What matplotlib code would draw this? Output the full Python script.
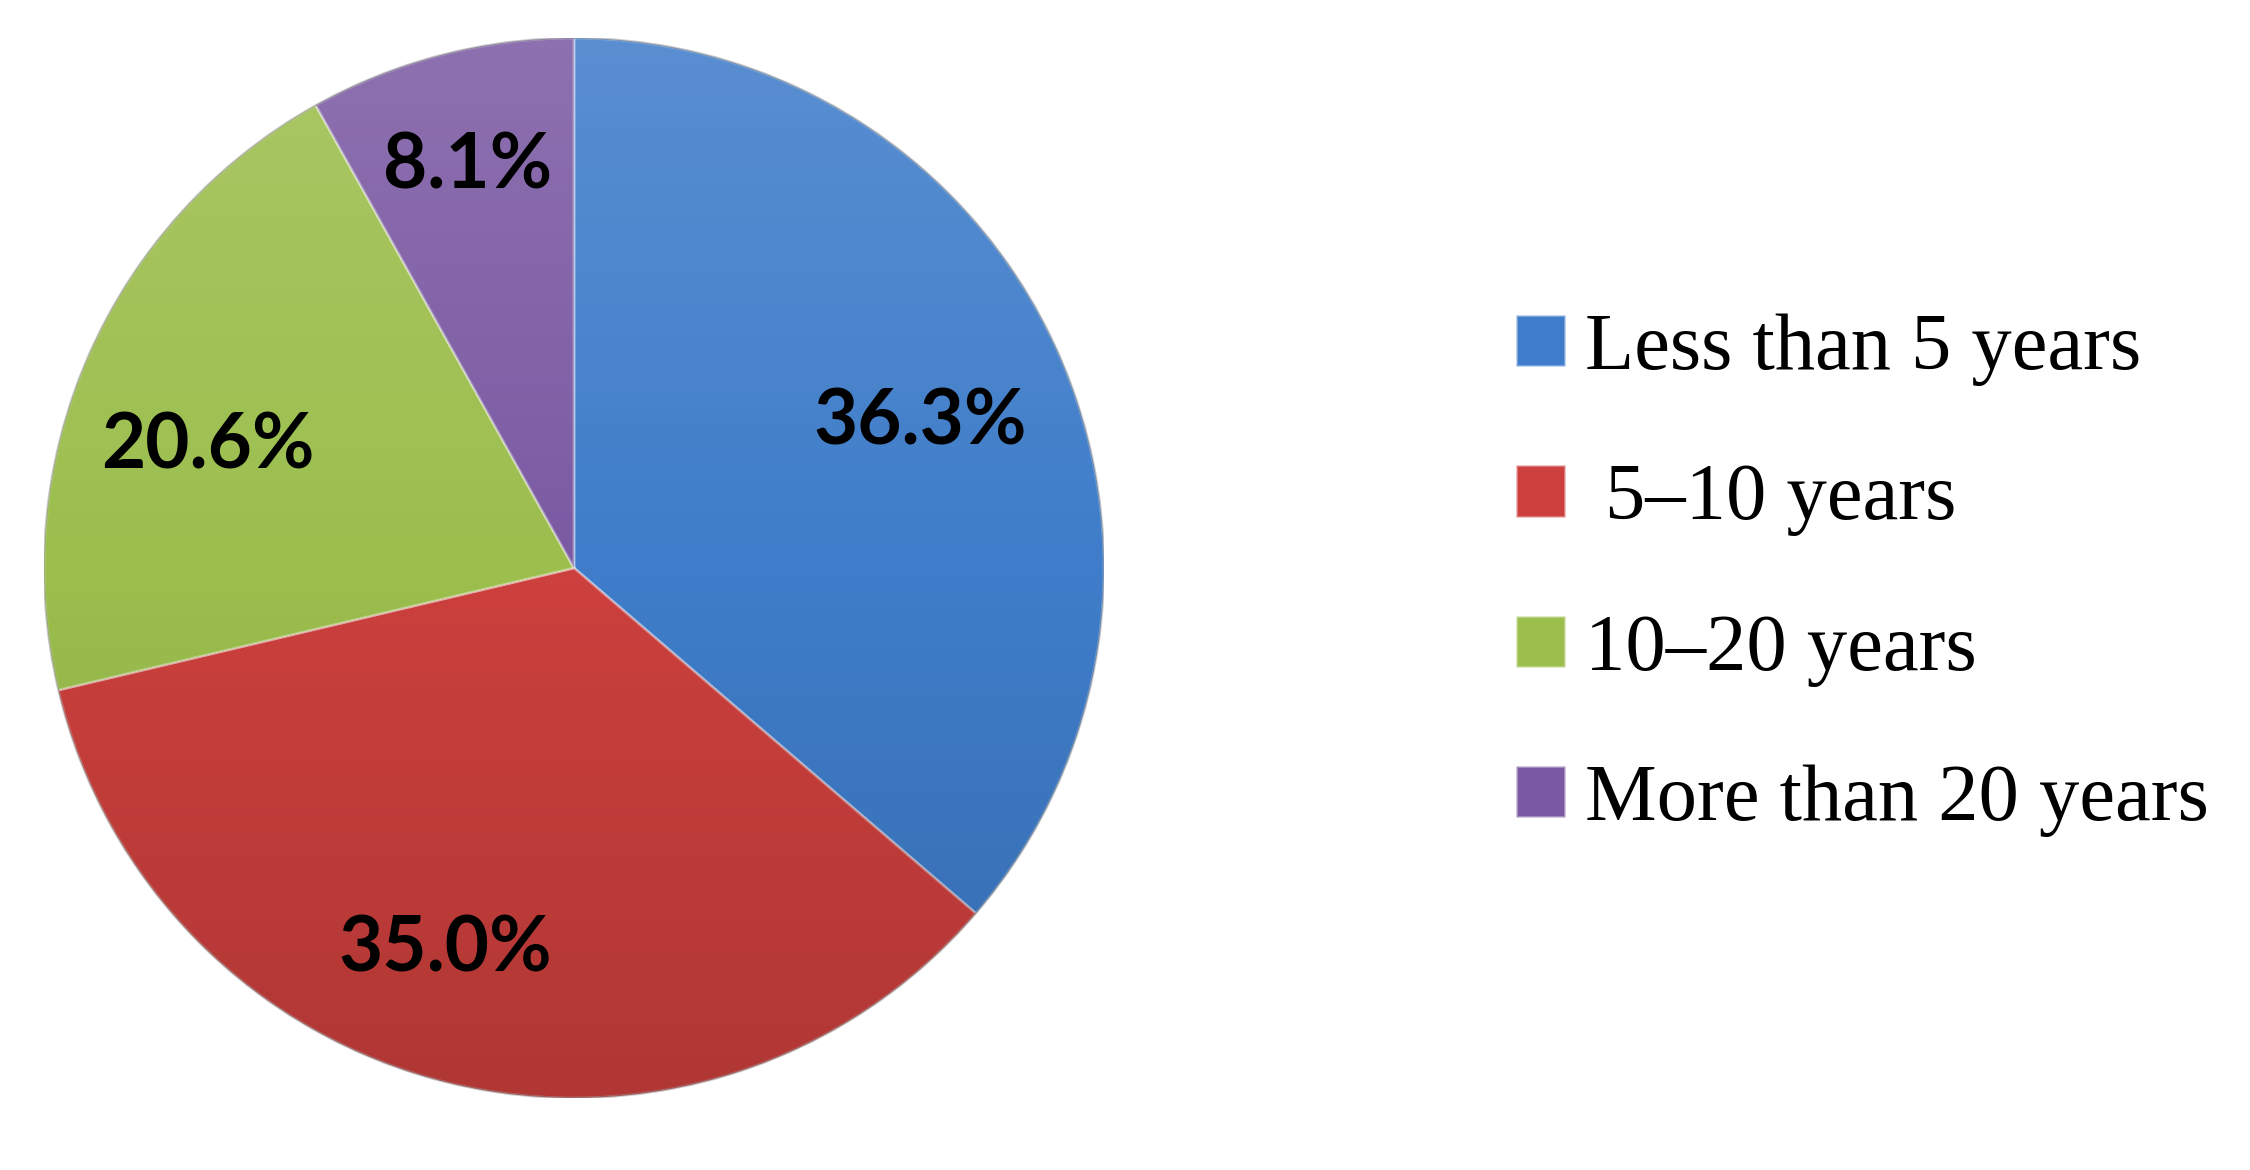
import numpy as np
import matplotlib
matplotlib.use('Agg')
import matplotlib.pyplot as plt
from matplotlib.patches import Circle

# data
labels = ['Less than 5 years', ' 5\u201310 years', '10\u201320 years', 'More than 20 years']
shares = [36.3, 35.0, 20.6, 8.1]
colors = ['#3F7DCA', '#CC403D', '#9CBE4D', '#7B5AA3']

# where the percent labels sit (radius, small angle nudge in degrees)
label_r = [0.713, 0.748, 0.731, 0.796]
label_nudge = [-1.0, -5.3, 4.5, 0.0]

fig = plt.figure(figsize=(22.5, 11.7), dpi=100)
# pie axes: centre at about (574, 568) px, radius 530 px
ax = fig.add_axes([(574 - 530) / 2250, 1 - (568 + 530) / 1170, 1060 / 2250, 1060 / 1170])

wedges, texts, autotexts = ax.pie(
    shares, colors=colors, startangle=90, counterclock=False,
    autopct='%1.1f%%', pctdistance=0.75, radius=1.0,
    wedgeprops=dict(edgecolor=(1, 1, 1, 0.35), linewidth=2.0),
    textprops=dict(fontsize=55, fontweight='bold', family='Lato', color='black'))

# light at the top, darker at the bottom, like the reference bevel
grad = np.linspace(1, 0, 256)[:, None] * np.ones((1, 2))
overlay = np.zeros((256, 2, 4))
overlay[..., :3] = np.where(grad[..., None] > 0.5, 1.0, 0.0)
overlay[..., 3] = np.abs(grad - 0.5) * 0.28
im = ax.imshow(overlay, extent=[-1, 1, -1, 1], aspect='auto', zorder=3, interpolation='bilinear')
im.set_clip_path(Circle((0, 0), 1.0, transform=ax.transData))
ax.add_patch(Circle((0, 0), 1.0, fill=False, edgecolor=(0.2, 0.2, 0.2, 0.25), linewidth=1.5, zorder=4))

for w, t, r, nd in zip(wedges, autotexts, label_r, label_nudge):
    ang = np.deg2rad((w.theta1 + w.theta2) / 2 + nd)
    t.set_position((r * np.cos(ang), r * np.sin(ang)))
    t.set_verticalalignment('center_baseline')
    t.set_zorder(5)

ax.set_xlim(-1, 1)
ax.set_ylim(-1, 1)
ax.set_aspect('equal')
ax.axis('off')

leg = fig.legend(wedges, labels, loc='upper left',
                 bbox_to_anchor=(1516 / 2250, 1 - 313 / 1170),
                 frameon=False, borderpad=0, borderaxespad=0,
                 prop=dict(family='Liberation Serif', size=58),
                 handlelength=0.61, handleheight=0.6, handletextpad=0.25,
                 labelspacing=0.96)

fig.savefig('out.png', dpi=100, facecolor='white')
